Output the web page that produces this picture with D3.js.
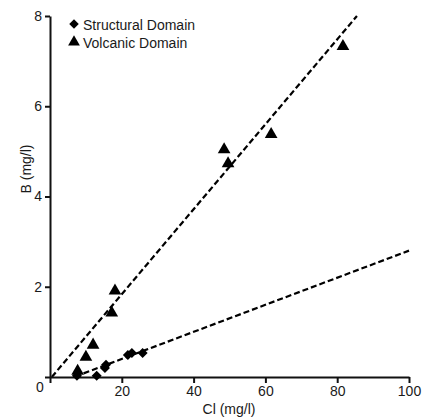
<!DOCTYPE html>
<html><head><meta charset="utf-8">
<script src="https://cdn.jsdelivr.net/npm/d3@7"></script>
<style>body{margin:0;background:#fff}svg{display:block}text{font-family:"Liberation Sans",Arial,sans-serif}</style>
</head><body>
<svg id="c" width="422" height="419"></svg>
<script>
const structuralCl = [7.5, 13, 15.3, 15.6, 21.7, 22.8, 25.8];
const structuralB  = [0.03, 0.03, 0.2, 0.27, 0.49, 0.53, 0.53];
const volcanicCl = [7.7, 10, 12, 17.2, 18.1, 48.5, 49.6, 61.6, 81.6];
const volcanicB  = [0.13, 0.44, 0.71, 1.42, 1.91, 5.04, 4.73, 5.38, 7.33];
const structuralFit = [[7, 0.01], [100, 2.8]];
const volcanicFit = [[0.5, 0], [85.5, 8]];
const xTicks = [0, 20, 40, 60, 80, 100];
const yTicks = [0, 2, 4, 6, 8];
const legendLabels = ["Structural Domain", "Volcanic Domain"];

const svg = d3.select("#c");
const x = d3.scaleLinear().domain([0, 100]).range([50, 409]);
const y = d3.scaleLinear().domain([0, 8]).range([377, 16]);

// fit lines
const line = d3.line().x(d => x(d[0])).y(d => y(d[1]));
[structuralFit, volcanicFit].forEach(f => {
  svg.append("path").attr("d", line(f)).attr("fill", "none")
    .attr("stroke", "#000").attr("stroke-width", 2.2).attr("stroke-dasharray", "6,3");
});

// axes
const gx = svg.append("g").attr("transform", `translate(0,${y(0)})`)
  .call(d3.axisBottom(x).tickValues(xTicks).tickSize(6).tickSizeOuter(0).tickPadding(3)
    .tickFormat(d => d === 0 ? "" : d));
const gy = svg.append("g").attr("transform", `translate(${x(0)},0)`)
  .call(d3.axisLeft(y).tickValues(yTicks).tickSize(5).tickSizeOuter(0).tickPadding(3)
    .tickFormat(d => d === 0 ? "" : d));
[gx, gy].forEach(g => {
  g.select(".domain").attr("stroke", "#111").attr("stroke-width", 2);
  g.selectAll(".tick line").attr("stroke", "#111").attr("stroke-width", 2);
  g.selectAll(".tick text").attr("font-size", 14).attr("fill", "#1a1a1a")
    .attr("font-family", "Liberation Sans, Arial, sans-serif");
});
svg.append("text").attr("x", 40).attr("y", 392).attr("text-anchor", "middle")
  .attr("font-size", 14).attr("fill", "#1a1a1a").text("0");

// axis labels
svg.append("text").attr("x", 229).attr("y", 414).attr("text-anchor", "middle")
  .attr("font-size", 14).attr("fill", "#1a1a1a").text("Cl (mg/l)");
svg.append("text").attr("transform", "translate(31,169) rotate(-90)")
  .attr("text-anchor", "middle").attr("font-size", 14).attr("fill", "#1a1a1a").text("B (mg/l)");

// markers
const diamond = d3.symbol().type(d3.symbolSquare).size(50);
const tri = d3.symbol().type(d3.symbolTriangle).size(70);
svg.selectAll(".s").data(structuralCl).join("path")
  .attr("transform", (d, i) => `translate(${x(d)},${y(structuralB[i])}) rotate(45)`)
  .attr("d", diamond).attr("fill", "#000");
svg.selectAll(".v").data(volcanicCl).join("path")
  .attr("transform", (d, i) => `translate(${x(d)},${y(volcanicB[i]) })`)
  .attr("d", tri).attr("fill", "#000");

// legend
const lg = svg.append("g");
lg.append("path").attr("transform", "translate(74,24) rotate(45)").attr("d", d3.symbol().type(d3.symbolSquare).size(45)).attr("fill", "#000");
lg.append("path").attr("transform", "translate(74,42)").attr("d", d3.symbol().type(d3.symbolTriangle).size(60)).attr("fill", "#000");
legendLabels.forEach((t, i) => {
  lg.append("text").attr("x", 83).attr("y", 30 + i * 18).attr("font-size", 14).attr("fill", "#1a1a1a").text(t);
});
</script>
</body></html>
